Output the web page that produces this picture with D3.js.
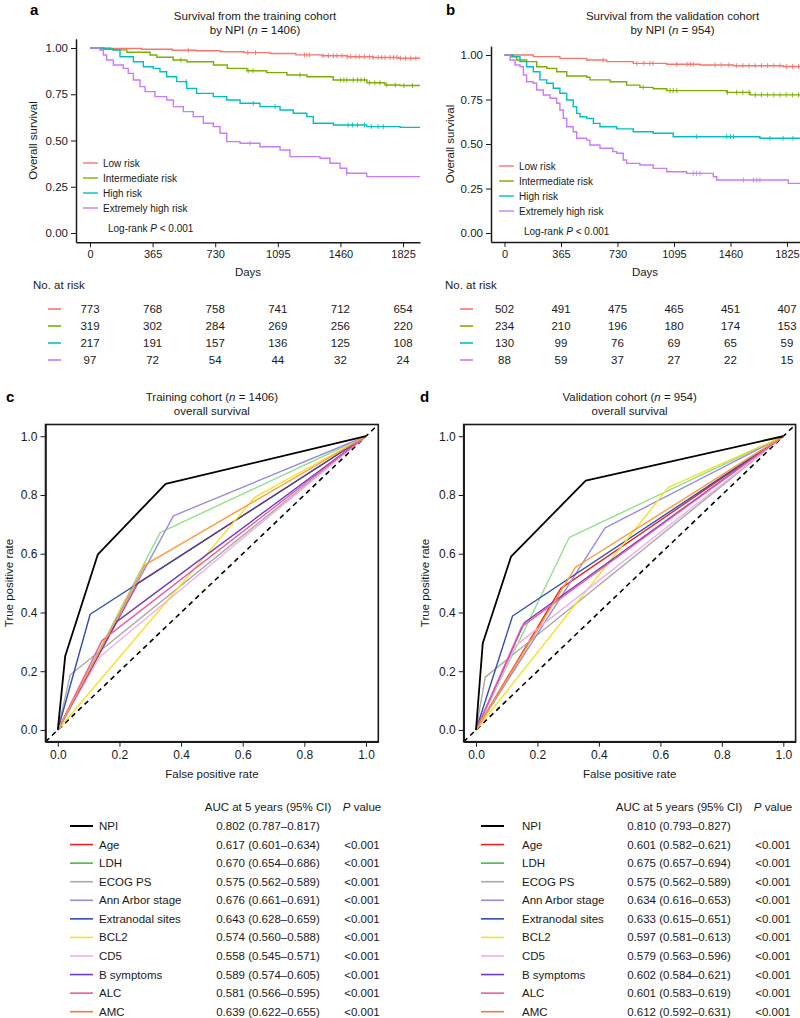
<!DOCTYPE html>
<html>
<head>
<meta charset="utf-8">
<script src="https://cdn.jsdelivr.net/npm/d3@7"></script>
<style>
  body { margin: 0; background: #fff; }
  svg { font-family: "Liberation Sans", Arial, Helvetica, sans-serif; }
</style>
</head>
<body>
<svg id="fig" width="800" height="1018"></svg>
<script>
// ---------- data ----------
var kmTimes = [0, 365, 730, 1095, 1460, 1825];
var riskGroups = ["Low risk", "Intermediate risk", "High risk", "Extremely high risk"];
var riskColors = ["#F8766D", "#7CAE00", "#00BFC4", "#C77CFF"];

// [day, survival] steps
var trainLow = [[0,1],[120,0.997],[300,0.993],[480,0.988],[620,0.985],[760,0.98],[900,0.975],[1050,0.97],[1200,0.963],[1350,0.958],[1500,0.953],[1650,0.949],[1800,0.945],[1924,0.945]];
var trainInter = [[0,1],[60,0.995],[135,0.99],[215,0.977],[350,0.962],[390,0.95],[485,0.935],[565,0.926],[720,0.908],[800,0.89],[915,0.877],[1030,0.867],[1148,0.854],[1265,0.845],[1418,0.827],[1615,0.812],[1720,0.8],[1808,0.797],[1924,0.797]];
var trainHigh = [[0,1],[80,0.995],[136,0.989],[175,0.953],[253,0.926],[311,0.899],[369,0.89],[408,0.872],[447,0.845],[505,0.818],[564,0.782],[622,0.755],[719,0.737],[797,0.719],[875,0.701],[991,0.683],[1108,0.665],[1185,0.647],[1264,0.629],[1302,0.593],[1419,0.584],[1613,0.575],[1808,0.571],[1924,0.571]];
var trainExtreme = [[0,1],[58,0.989],[78,0.962],[97,0.935],[136,0.908],[194,0.89],[223,0.863],[253,0.827],[292,0.791],[321,0.764],[379,0.737],[447,0.719],[486,0.683],[544,0.656],[602,0.629],[661,0.593],[719,0.575],[758,0.539],[797,0.494],[875,0.485],[991,0.466],[1108,0.449],[1166,0.413],[1341,0.404],[1399,0.377],[1458,0.35],[1497,0.323],[1613,0.305],[1924,0.305]];

var validLow = [[0,1],[186,0.991],[358,0.981],[531,0.972],[660,0.963],[832,0.953],[1047,0.948],[1263,0.944],[1478,0.94],[1800,0.935],[1960,0.934]];
var validInter = [[0,1],[40,0.99],[79,0.972],[143,0.963],[208,0.934],[273,0.925],[337,0.906],[402,0.882],[531,0.875],[552,0.86],[682,0.85],[789,0.831],[875,0.818],[961,0.81],[1048,0.8],[1435,0.79],[1586,0.776],[1960,0.776]];
var validHigh = [[0,1],[57,0.991],[100,0.963],[143,0.934],[186,0.906],[229,0.86],[273,0.841],[315,0.813],[358,0.785],[402,0.747],[444,0.71],[466,0.672],[488,0.653],[531,0.644],[574,0.616],[617,0.597],[725,0.585],[832,0.569],[961,0.56],[1090,0.541],[1650,0.532],[1960,0.532]];
var validExtreme = [[0,1],[36,0.972],[68,0.944],[100,0.934],[122,0.888],[143,0.85],[186,0.841],[208,0.803],[251,0.775],[294,0.757],[337,0.729],[358,0.691],[380,0.644],[402,0.597],[444,0.569],[466,0.532],[531,0.522],[552,0.494],[617,0.476],[700,0.457],[725,0.448],[767,0.41],[789,0.391],[875,0.382],[961,0.363],[1048,0.344],[1177,0.335],[1349,0.316],[1371,0.298],[1833,0.279],[1960,0.279]];

// censoring times (days)
var trainLowCens = [573,920,965,1250,1265,1280,1360,1390,1420,1440,1470,1500,1520,1550,1570,1600,1630,1650,1680,1700,1720,1750,1770,1790,1810,1840,1870,1900];
var trainInterCens = [530,922,950,1224,1460,1480,1497,1534,1560,1580,1600,1630,1660,1690,1730,1780,1830,1880];
var trainHighCens = [560,952,1079,1505,1530,1560,1600,1640,1680,1710];
var trainExtremeCens = [933,1497];
var validLowCens = [637,855,900,940,960,1113,1180,1200,1219,1360,1400,1450,1500,1540,1580,1620,1660,1700,1740,1780,1820,1860,1900];
var validInterCens = [896,1070,1090,1113,1440,1500,1540,1580,1620,1660,1700,1740,1780,1820,1860,1900];
var validHighCens = [1242,1436,1460,1479,1715,1800,1864];
var validExtremeCens = [1219,1240,1263,1543,1608,1630,1650];

var trainAtRisk = [[773,768,758,741,712,654],[319,302,284,269,256,220],[217,191,157,136,125,108],[97,72,54,44,32,24]];
var validAtRisk = [[502,491,475,465,451,407],[234,210,196,180,174,153],[130,99,76,69,65,59],[88,59,37,27,22,15]];

var rocVars = ["NPI","Age","LDH","ECOG PS","Ann Arbor stage","Extranodal sites","BCL2","CD5","B symptoms","ALC","AMC"];
var rocLineColors = ["#000000","#E8251F","#94E08A","#AAAAAA","#9D8AE2","#2E4FB5","#F5E12A","#EEB0E6","#6C3CC4","#EC5CA0","#FF9933"];
var rocKeyColors = ["#000000","#E8251F","#4DB84D","#AAAAAA","#9D8AE2","#2E4FB5","#F5E12A","#EEB0E6","#6C3CC4","#EC5CA0","#F07C3A"];

// [false positive rate, true positive rate]
var rocTrain = [
  [[0,0],[0.024,0.252],[0.13,0.598],[0.35,0.838],[1,1]],
  [[0,0],[0.26,0.5],[1,1]],
  [[0,0],[0.332,0.672],[1,1]],
  [[0,0],[0.04,0.187],[1,1]],
  [[0,0],[0.375,0.729],[1,1]],
  [[0,0],[0.105,0.394],[1,1]],
  [[0,0],[0.64,0.793],[1,1]],
  [[0,0],[0.137,0.25],[1,1]],
  [[0,0],[0.191,0.369],[1,1]],
  [[0,0],[0.143,0.304],[1,1]],
  [[0,0],[0.283,0.562],[1,1]]
];
var rocValid = [
  [[0,0],[0.022,0.295],[0.114,0.59],[0.357,0.849],[1,1]],
  [[0,0],[0.276,0.482],[1,1]],
  [[0,0],[0.304,0.656],[1,1]],
  [[0,0],[0.03,0.18],[1,1]],
  [[0,0],[0.42,0.688],[1,1]],
  [[0,0],[0.119,0.388],[1,1]],
  [[0,0],[0.626,0.826],[1,1]],
  [[0,0],[0.13,0.288],[1,1]],
  [[0,0],[0.157,0.365],[1,1]],
  [[0,0],[0.149,0.352],[1,1]],
  [[0,0],[0.324,0.554],[1,1]]
];

var aucTrain = ["0.802 (0.787\u20130.817)","0.617 (0.601\u20130.634)","0.670 (0.654\u20130.686)","0.575 (0.562\u20130.589)","0.676 (0.661\u20130.691)","0.643 (0.628\u20130.659)","0.574 (0.560\u20130.588)","0.558 (0.545\u20130.571)","0.589 (0.574\u20130.605)","0.581 (0.566\u20130.595)","0.639 (0.622\u20130.655)"];
var aucValid = ["0.810 (0.793\u20130.827)","0.601 (0.582\u20130.621)","0.675 (0.657\u20130.694)","0.575 (0.562\u20130.589)","0.634 (0.616\u20130.653)","0.633 (0.615\u20130.651)","0.597 (0.581\u20130.613)","0.579 (0.563\u20130.596)","0.602 (0.584\u20130.621)","0.601 (0.583\u20130.619)","0.612 (0.592\u20130.631)"];
var pTrain = ["","<0.001","<0.001","<0.001","<0.001","<0.001","<0.001","<0.001","<0.001","<0.001","<0.001"];
var pValid = ["","<0.001","<0.001","<0.001","<0.001","<0.001","<0.001","<0.001","<0.001","<0.001","<0.001"];

// ---------- drawing ----------
var svg = d3.select("#fig");
var ink = "#1a1a1a";

function styleAxis(a, fs) {
  a.select(".domain").attr("stroke", ink).attr("stroke-width", 1.5);
  a.selectAll(".tick line").attr("stroke", ink).attr("stroke-width", 1);
  a.selectAll(".tick text").attr("fill", ink).attr("font-size", fs).attr("font-family", null);
}

function survAt(curve, t) {
  var i = d3.bisector(function (d) { return d[0]; }).right(curve, t) - 1;
  return curve[Math.max(i, 0)][1];
}

function italicLine(sel, before, it, after) {
  sel.append("tspan").text(before);
  sel.append("tspan").attr("font-style", "italic").text(it);
  sel.append("tspan").text(after);
}

function drawKM(cfg) {
  var g = svg.append("g");
  var x = d3.scaleLinear().domain(cfg.xDomain).range(cfg.xRange);
  var y = d3.scaleLinear().domain([-0.05, 1.05]).range(cfg.yRange);

  g.append("text").attr("x", cfg.labelX).attr("y", 10).attr("dy", "0.35em")
    .attr("font-weight", "bold").attr("font-size", 15).text(cfg.label);
  g.append("text").attr("x", cfg.titleX).attr("y", 15.7).attr("dy", "0.35em")
    .attr("text-anchor", "middle").attr("font-size", 11.5).attr("fill", ink).text(cfg.title);
  italicLine(g.append("text").attr("x", cfg.titleX).attr("y", 30).attr("dy", "0.35em")
    .attr("text-anchor", "middle").attr("font-size", 11.5).attr("fill", ink), "by NPI (", "n", " = " + cfg.n + ")");

  var ya = g.append("g").attr("transform", "translate(" + cfg.xRange[0] + ",0)")
    .call(d3.axisLeft(y).tickValues([0, 0.25, 0.5, 0.75, 1]).tickFormat(d3.format(".2f"))
      .tickSize(5).tickSizeOuter(0).tickPadding(3));
  styleAxis(ya, 11.5);
  var xa = g.append("g").attr("transform", "translate(0," + cfg.yRange[0] + ")")
    .call(d3.axisBottom(x).tickValues(kmTimes).tickFormat(d3.format("d"))
      .tickSize(5).tickSizeOuter(0).tickPadding(3));
  styleAxis(xa, 11);

  g.append("text").attr("transform", "translate(" + cfg.ylabX + "," + ((cfg.yRange[0] + cfg.yRange[1]) / 2) + ") rotate(-90)")
    .attr("dy", "0.35em").attr("text-anchor", "middle").attr("font-size", 11.5).attr("fill", ink).text("Overall survival");
  g.append("text").attr("x", cfg.daysX).attr("y", 272).attr("dy", "0.35em")
    .attr("text-anchor", "middle").attr("font-size", 11.5).attr("fill", ink).text("Days");

  var clipId = "clip" + cfg.label;
  g.append("clipPath").attr("id", clipId).append("rect")
    .attr("x", cfg.xRange[0]).attr("y", cfg.yRange[1] - 5)
    .attr("width", cfg.xRange[1] - cfg.xRange[0]).attr("height", cfg.yRange[0] - cfg.yRange[1] + 5);
  var plot = g.append("g").attr("clip-path", "url(#" + clipId + ")");

  var line = d3.line().curve(d3.curveStepAfter)
    .x(function (d) { return x(d[0]); })
    .y(function (d) { return y(d[1]); });

  cfg.curves.forEach(function (c, i) {
    plot.append("path").attr("d", line(c)).attr("fill", "none")
      .attr("stroke", riskColors[i]).attr("stroke-width", 1.4);
    plot.selectAll(null).data(cfg.censors[i]).enter().append("line")
      .attr("x1", function (t) { return x(t); }).attr("x2", function (t) { return x(t); })
      .attr("y1", function (t) { return y(survAt(c, t)) - 2.5; })
      .attr("y2", function (t) { return y(survAt(c, t)) + 2.5; })
      .attr("stroke", riskColors[i]).attr("stroke-width", 0.9);
  });

  // legend
  riskGroups.forEach(function (name, i) {
    var yy = cfg.legY + i * 15;
    g.append("line").attr("x1", cfg.legX).attr("x2", cfg.legX + 15).attr("y1", yy).attr("y2", yy)
      .attr("stroke", riskColors[i]).attr("stroke-width", 1.4);
    g.append("text").attr("x", cfg.legX + 20).attr("y", yy).attr("dy", "0.35em")
      .attr("font-size", 10).attr("fill", ink).text(name);
  });
  italicLine(g.append("text").attr("x", cfg.legX + 25).attr("y", cfg.legY + 65).attr("dy", "0.35em")
    .attr("font-size", 10).attr("fill", ink), "Log-rank ", "P", " < 0.001");

  // number at risk
  g.append("text").attr("x", cfg.noRiskX).attr("y", 285).attr("dy", "0.35em")
    .attr("font-size", 11.5).attr("fill", ink).text("No. at risk");
  cfg.atRisk.forEach(function (row, i) {
    var yy = 309 + i * 17;
    g.append("line").attr("x1", cfg.noRiskX + 15).attr("x2", cfg.noRiskX + 28).attr("y1", yy).attr("y2", yy)
      .attr("stroke", riskColors[i]).attr("stroke-width", 1.6);
    g.selectAll(null).data(row).enter().append("text")
      .attr("x", function (d, j) { return x(kmTimes[j]); }).attr("y", yy).attr("dy", "0.35em")
      .attr("text-anchor", "middle").attr("font-size", 11.5).attr("fill", ink)
      .text(function (d) { return d; });
  });
}

function drawROC(cfg) {
  var g = svg.append("g");
  var x = d3.scaleLinear().domain([-0.04, 1.04]).range([cfg.left, cfg.right]);
  var y = d3.scaleLinear().domain([-0.04, 1.04]).range([741.7, 424.5]);
  var cx = (x(0) + x(1)) / 2;

  g.append("text").attr("x", cfg.labelX).attr("y", 397).attr("dy", "0.35em")
    .attr("font-weight", "bold").attr("font-size", 15).text(cfg.label);
  italicLine(g.append("text").attr("x", cx).attr("y", 397).attr("dy", "0.35em")
    .attr("text-anchor", "middle").attr("font-size", 11.5).attr("fill", ink), cfg.title + " (", "n", " = " + cfg.n + ")");
  g.append("text").attr("x", cx).attr("y", 411).attr("dy", "0.35em")
    .attr("text-anchor", "middle").attr("font-size", 11.5).attr("fill", ink).text("overall survival");

  var ticks = [0, 0.2, 0.4, 0.6, 0.8, 1];
  var ya = g.append("g").attr("transform", "translate(" + cfg.left + ",0)")
    .call(d3.axisLeft(y).tickValues(ticks).tickFormat(d3.format(".1f")).tickSize(5).tickSizeOuter(0).tickPadding(3));
  styleAxis(ya, 12);
  var xa = g.append("g").attr("transform", "translate(0,741.7)")
    .call(d3.axisBottom(x).tickValues(ticks).tickFormat(d3.format(".1f")).tickSize(5).tickSizeOuter(0).tickPadding(4));
  styleAxis(xa, 12);

  g.append("text").attr("transform", "translate(" + cfg.ylabX + ",583) rotate(-90)")
    .attr("dy", "0.35em").attr("text-anchor", "middle").attr("font-size", 11.5).attr("fill", ink).text("True positive rate");
  g.append("text").attr("x", cx).attr("y", 774).attr("dy", "0.35em")
    .attr("text-anchor", "middle").attr("font-size", 11.5).attr("fill", ink).text("False positive rate");

  var clipId = "rclip" + cfg.label;
  g.append("clipPath").attr("id", clipId).append("rect")
    .attr("x", cfg.left).attr("y", 424.5).attr("width", cfg.right - cfg.left).attr("height", 741.7 - 424.5);
  var plot = g.append("g").attr("clip-path", "url(#" + clipId + ")");

  plot.append("line").attr("x1", x(-0.04)).attr("y1", y(-0.04)).attr("x2", x(1.04)).attr("y2", y(1.04))
    .attr("stroke", "#000").attr("stroke-width", 1.6).attr("stroke-dasharray", "5,4");

  var line = d3.line().x(function (d) { return x(d[0]); }).y(function (d) { return y(d[1]); });
  cfg.curves.forEach(function (c, i) {
    if (i === 0) return;
    plot.append("path").attr("d", line(c)).attr("fill", "none")
      .attr("stroke", rocLineColors[i]).attr("stroke-width", 1.4).attr("stroke-linejoin", "round");
  });
  plot.append("path").attr("d", line(cfg.curves[0])).attr("fill", "none")
    .attr("stroke", rocLineColors[0]).attr("stroke-width", 1.8).attr("stroke-linejoin", "round");

  g.append("rect").attr("x", cfg.left).attr("y", 424.5).attr("width", cfg.right - cfg.left).attr("height", 741.7 - 424.5)
    .attr("fill", "none").attr("stroke", ink).attr("stroke-width", 1.6);

  // AUC table
  g.append("text").attr("x", cfg.aucX).attr("y", 807).attr("dy", "0.35em").attr("text-anchor", "middle")
    .attr("font-size", 11.5).attr("fill", ink).text("AUC at 5 years (95% CI)");
  italicLine(g.append("text").attr("x", cfg.pX).attr("y", 807).attr("dy", "0.35em").attr("text-anchor", "middle")
    .attr("font-size", 11.5).attr("fill", ink), "", "P", " value");
  rocVars.forEach(function (name, i) {
    var yy = 826 + i * 18.57;
    g.append("line").attr("x1", cfg.keyX).attr("x2", cfg.keyX + 23).attr("y1", yy).attr("y2", yy)
      .attr("stroke", rocKeyColors[i]).attr("stroke-width", i === 0 ? 2 : 1.6);
    g.append("text").attr("x", cfg.nameX).attr("y", yy).attr("dy", "0.35em")
      .attr("font-size", 11.5).attr("fill", ink).text(name);
    g.append("text").attr("x", cfg.aucX).attr("y", yy).attr("dy", "0.35em").attr("text-anchor", "middle")
      .attr("font-size", 11.5).attr("fill", ink).text(cfg.auc[i]);
    g.append("text").attr("x", cfg.pX).attr("y", yy).attr("dy", "0.35em").attr("text-anchor", "middle")
      .attr("font-size", 11.5).attr("fill", ink).text(cfg.p[i]);
  });
}

drawKM({
  label: "a", labelX: 30, title: "Survival from the training cohort", n: 1406, titleX: 255,
  xDomain: [-81.6, 1924], xRange: [76, 420], yRange: [242.25, 38.75],
  ylabX: 33, daysX: 248, legX: 83, legY: 163, noRiskX: 33,
  curves: [trainLow, trainInter, trainHigh, trainExtreme],
  censors: [trainLowCens, trainInterCens, trainHighCens, trainExtremeCens],
  atRisk: trainAtRisk
});
drawKM({
  label: "b", labelX: 446, title: "Survival from the validation cohort", n: 954, titleX: 672.5,
  xDomain: [-87.2, 2006], xRange: [491, 815], yRange: [241.9, 46.1],
  ylabX: 450, daysX: 645, legX: 499, legY: 166, noRiskX: 445,
  curves: [validLow, validInter, validHigh, validExtreme],
  censors: [validLowCens, validInterCens, validHighCens, validExtremeCens],
  atRisk: validAtRisk
});
drawROC({
  label: "c", labelX: 6, title: "Training cohort", n: 1406,
  left: 45.5, right: 378.3, ylabX: 9,
  curves: rocTrain, auc: aucTrain, p: pTrain,
  keyX: 70, nameX: 99, aucX: 268, pX: 362
});
drawROC({
  label: "d", labelX: 420, title: "Validation cohort", n: 954,
  left: 463.7, right: 795.6, ylabX: 425,
  curves: rocValid, auc: aucValid, p: pValid,
  keyX: 481, nameX: 522, aucX: 679, pX: 773
});
</script>
</body>
</html>
